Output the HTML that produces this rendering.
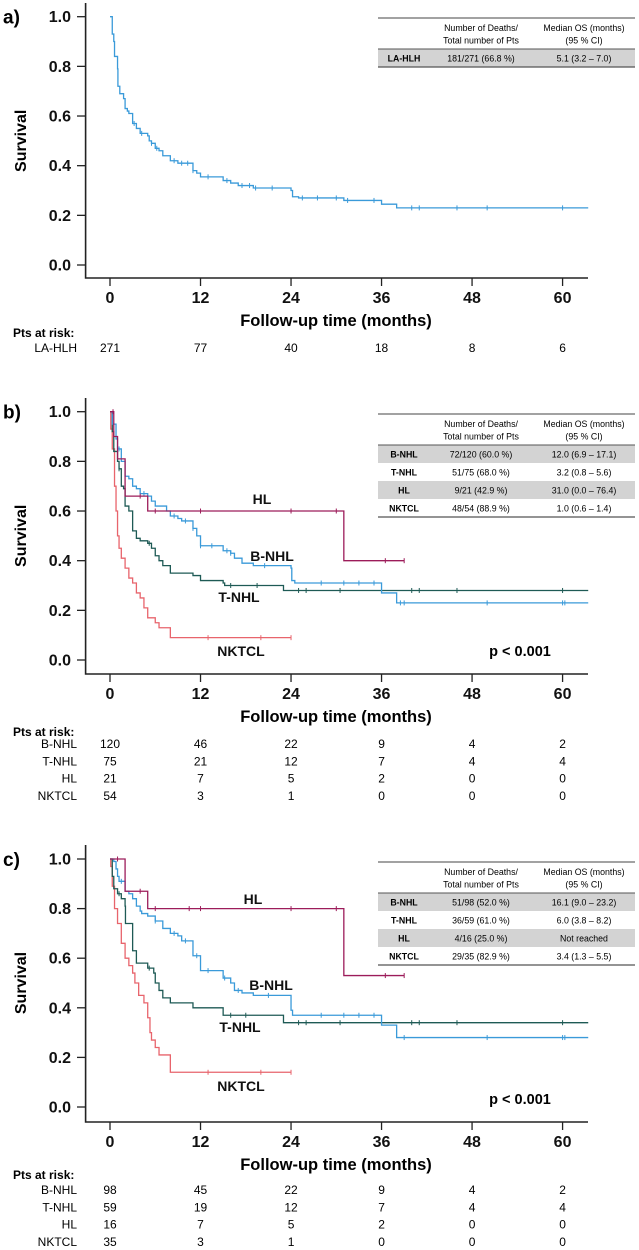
<!DOCTYPE html>
<html><head><meta charset="utf-8"><style>
html,body{margin:0;padding:0;background:#fff;}
svg{display:block;font-family:"Liberation Sans",sans-serif;}
</style></head><body>
<svg id="fig" width="639" height="1250" viewBox="0 0 639 1250" xmlns="http://www.w3.org/2000/svg"></svg>
<script>
// ---------- data ----------
const xTicks = [0, 12, 24, 36, 48, 60];
const yTicks = [0.0, 0.2, 0.4, 0.6, 0.8, 1.0];
// Panel a
const aLAHLH_t = [0,0.3,0.5,0.6,1.0,1.05,1.3,1.8,2.0,2.3,2.5,3.0,3.5,4.0,5.0,5.2,5.5,6.0,6.5,7.0,8.0,9.0,11.0,11.5,12.0,15.0,16.0,17.0,19.0,24.0,24.2,25.0,31.0,36.0,38.0];
const aLAHLH_s = [1.0,0.93,0.9,0.84,0.79,0.72,0.69,0.67,0.63,0.62,0.61,0.57,0.55,0.53,0.52,0.50,0.49,0.47,0.46,0.44,0.42,0.41,0.38,0.37,0.355,0.34,0.33,0.32,0.31,0.30,0.275,0.27,0.26,0.245,0.23];
const aLAHLH_cens = [3.2,4.2,5.5,6.2,8.5,9.5,10.3,11,13,15.5,17.5,18.5,19.3,21.5,25.5,27.5,30,31.5,35,40,41,46,50,60];
const aRisk = [271, 77, 40, 18, 8, 6];
// Panel b
const bBNHL_t = [0,0.3,0.8,1.0,1.5,2.0,2.5,3.0,3.5,4.0,5.0,5.5,6.0,7.5,8.0,9.0,9.5,11.0,11.5,12.0,15.0,16.0,16.5,17.5,19.0,24.0,24.1,24.5,36.0,38.0];
const bBNHL_s = [1.0,0.95,0.89,0.85,0.80,0.74,0.73,0.70,0.69,0.67,0.66,0.64,0.62,0.60,0.58,0.57,0.56,0.53,0.50,0.46,0.44,0.43,0.41,0.39,0.38,0.37,0.32,0.31,0.27,0.23];
const bBNHL_cens = [1.2,4.5,8.5,10,11,12,13.5,15.5,16,20.5,28,31,33,35,38.5,39,50,60,60.3];
const bTNHL_t = [0,0.3,0.5,1.0,1.2,1.5,1.8,2.0,2.5,3.0,3.5,4.0,5.0,5.5,6.0,6.5,7.0,8.0,11.0,12.0,15.0,15.2,23.0];
const bTNHL_s = [1.0,0.92,0.84,0.80,0.77,0.70,0.69,0.62,0.60,0.52,0.49,0.48,0.47,0.45,0.42,0.40,0.38,0.35,0.34,0.32,0.31,0.30,0.28];
const bTNHL_cens = [1.2,5.2,16,19.5,25,26,30.5,40,41,46,60];
const bHL_t = [0,0.5,1.0,2.0,5.0,31.0];
const bHL_s = [1.0,0.90,0.81,0.66,0.60,0.40];
const bHL_end = 39;
const bHL_cens = [0.4,4,6,12,24,30,36.5,39];
const bNK_t = [0,0.1,0.3,0.6,0.8,1.0,1.2,1.5,2.0,2.5,3.0,3.5,4.0,4.5,5.0,6.0,6.5,8.0];
const bNK_s = [1.0,0.93,0.85,0.70,0.60,0.50,0.45,0.41,0.37,0.33,0.31,0.27,0.25,0.21,0.17,0.15,0.13,0.09];
const bNK_end = 24;
const bNK_cens = [13,20,24];
const bRisk = {"B-NHL":[120,46,22,9,4,2],"T-NHL":[75,21,12,7,4,4],"HL":[21,7,5,2,0,0],"NKTCL":[54,3,1,0,0,0]};
// Panel c
const cBNHL_t = [0,0.5,0.8,1.0,1.2,2.0,2.5,3.0,3.5,4.0,4.2,5.0,6.0,7.0,8.0,9.0,9.5,11.0,12.0,15.0,16.0,16.5,17.5,19.0,24.0,24.2,36.0,38.0];
const cBNHL_s = [1.0,0.99,0.96,0.93,0.91,0.87,0.86,0.84,0.81,0.79,0.78,0.77,0.75,0.72,0.70,0.69,0.67,0.61,0.55,0.52,0.50,0.47,0.46,0.45,0.39,0.37,0.33,0.28];
const cBNHL_cens = [1.5,6,8.5,10,11.5,13,15.2,17,21,28,31,33,35,39,50,60,60.3];
const cTNHL_t = [0,0.3,0.5,1.0,1.5,2.0,2.05,3.0,3.5,5.0,5.8,6.0,6.5,7.0,8.0,11.0,15.0,23.0];
const cTNHL_s = [1.0,0.93,0.88,0.86,0.84,0.81,0.74,0.63,0.58,0.56,0.54,0.50,0.47,0.44,0.42,0.40,0.37,0.34];
const cTNHL_cens = [1.2,5.2,16,18,25,26,30.5,40,41,46,60];
const cHL_t = [0,2.0,5.0,31.0];
const cHL_s = [1.0,0.87,0.80,0.53];
const cHL_end = 39;
const cHL_cens = [1,4,6,10.5,12,24,30,36.5,39];
const cNK_t = [0,0.1,0.3,0.6,1.0,1.5,2.0,2.5,3.0,3.3,3.8,4.5,5.0,5.3,5.5,6.0,6.5,8.0];
const cNK_s = [1.0,0.97,0.89,0.80,0.74,0.66,0.60,0.57,0.54,0.50,0.45,0.42,0.36,0.30,0.27,0.24,0.21,0.14];
const cNK_end = 24;
const cNK_cens = [13,20,24];
const cRisk = {"B-NHL":[98,45,22,9,4,2],"T-NHL":[59,19,12,7,4,4],"HL":[16,7,5,2,0,0],"NKTCL":[35,3,1,0,0,0]};
const bTable = [["B-NHL","72/120 (60.0 %)","12.0 (6.9 – 17.1)"],["T-NHL","51/75 (68.0 %)","3.2 (0.8 – 5.6)"],["HL","9/21 (42.9 %)","31.0 (0.0 – 76.4)"],["NKTCL","48/54 (88.9 %)","1.0 (0.6 – 1.4)"]];
const cTable = [["B-NHL","51/98 (52.0 %)","16.1 (9.0 – 23.2)"],["T-NHL","36/59 (61.0 %)","6.0 (3.8 – 8.2)"],["HL","4/16 (25.0 %)","Not reached"],["NKTCL","29/35 (82.9 %)","3.4 (1.3 – 5.5)"]];
const aTable = [["LA-HLH","181/271 (66.8 %)","5.1 (3.2 – 7.0)"]];

// ---------- drawing ----------
const NS = "http://www.w3.org/2000/svg";
const svg = document.getElementById('fig');
const COL = {blue:"#3a9ad9", green:"#1e5a55", maroon:"#9c1c5a", red:"#e8646c"};
const X0 = 110, PXM = 7.543, XEND = 63.4;
function xs(m){ return X0 + m*PXM; }
function mk(tag, attrs, parent, text){
  const e = document.createElementNS(NS, tag);
  for (const k in attrs) e.setAttribute(k, attrs[k]);
  if (text !== undefined) e.textContent = text;
  (parent||svg).appendChild(e);
  return e;
}
function panel(p){
  const g = mk('g', {});
  
  
  const ys = v => p.y0 + (p.y1 - p.y0) * v;
  const lbl = mk('text', {x:3, y:p.y1+7, 'font-size':19, 'font-weight':'bold'}, g, p.letter + ')');
  
  
  const ax = mk('path', {d:`M85.6 ${p.top} V${p.axisY} H588`, stroke:'#222', 'stroke-width':1.6, fill:'none'}, g);
  
  
  yTicks.forEach(v => {
    const y = ys(v);
    mk('line', {x1:77, x2:85.6, y1:y, y2:y, stroke:'#222', 'stroke-width':1.3}, g);
    const t = mk('text', {x:71, y:y+5.5, 'font-size':16, 'font-weight':'bold', 'text-anchor':'end', fill:'#111'}, g, v.toFixed(1));
    
    
  });
  xTicks.forEach(m => {
    const x = xs(m);
    mk('line', {x1:x, x2:x, y1:p.axisY, y2:p.axisY+8, stroke:'#222', 'stroke-width':1.3}, g);
    const t = mk('text', {x:x, y:p.axisY+25, 'font-size':16, 'font-weight':'bold', 'text-anchor':'middle', fill:'#111'}, g, String(m));
    
    
  });
  const yt = mk('text', {x:0, y:0, 'font-size':16, 'font-weight':'bold', 'text-anchor':'middle', transform:`translate(26 ${(p.y0+p.y1)/2}) rotate(-90)`}, g, 'Survival');
  
  
  const xt = mk('text', {x:336, y:p.axisY+48, 'font-size':16.5, 'font-weight':'bold', 'text-anchor':'middle'}, g, 'Follow-up time (months)');
  
  
  p.series.forEach(s => {
    let d = `M${xs(s.t[0])} ${ys(s.s[0])}`;
    for (let i = 1; i < s.t.length; i++) d += ` H${xs(s.t[i])} V${ys(s.s[i])}`;
    d += ` H${xs(s.end)}`;
    const path = mk('path', {d:d, stroke:s.color, 'stroke-width':1.3, fill:'none'}, g);
    
    
    s.cens.forEach(c => {
      let v = s.s[0];
      for (let i = 0; i < s.t.length; i++) if (s.t[i] <= c) v = s.s[i];
      const y = ys(v), x = xs(c);
      const cm = mk('line', {x1:x, x2:x, y1:y-2.5, y2:y+2.5, stroke:s.color, 'stroke-width':1}, g);
      
      
    });
  });
  (p.labels||[]).forEach(l => {
    const t = mk('text', {x:l[1], y:l[2], 'font-size':14, 'font-weight':'bold', 'text-anchor':'middle', fill:'#111'}, g, l[0]);
    
    
  });
  if (p.pval) {
    const t = mk('text', {x:520, y:p.pval, 'font-size':14.5, 'font-weight':'bold', 'text-anchor':'middle'}, g, 'p < 0.001');
    
    
  }
  const tb = mk('g', {}, g);
  
  
  const T = p.tTop;
  mk('line', {x1:378, x2:635, y1:T, y2:T, stroke:'#444', 'stroke-width':1}, tb);
  mk('text', {x:481, y:T+13, 'font-size':8.8, 'text-anchor':'middle'}, tb, 'Number of Deaths/');
  mk('text', {x:481, y:T+25.5, 'font-size':8.8, 'text-anchor':'middle'}, tb, 'Total number of Pts');
  mk('text', {x:584, y:T+13, 'font-size':8.8, 'text-anchor':'middle'}, tb, 'Median OS (months)');
  mk('text', {x:584, y:T+25.5, 'font-size':8.8, 'text-anchor':'middle'}, tb, '(95 % CI)');
  const H = T + 31;
  p.table.forEach((r, i) => {
    const ry = H + i*18;
    if (i % 2 === 0) mk('rect', {x:378, y:ry, width:257, height:18, fill:'#d3d3d3'}, tb);
    mk('text', {x:404, y:ry+12.5, 'font-size':8.8, 'font-weight':'bold', 'text-anchor':'middle'}, tb, r[0]);
    mk('text', {x:481, y:ry+12.5, 'font-size':8.8, 'text-anchor':'middle'}, tb, r[1]);
    mk('text', {x:584, y:ry+12.5, 'font-size':8.8, 'text-anchor':'middle'}, tb, r[2]);
  });
  mk('line', {x1:378, x2:635, y1:H, y2:H, stroke:'#555', 'stroke-width':1}, tb);
  mk('line', {x1:378, x2:635, y1:H+18*p.table.length, y2:H+18*p.table.length, stroke:'#555', 'stroke-width':1.3}, tb);
  const rk = mk('g', {}, g);
  
  
  mk('text', {x:13, y:p.riskTop, 'font-size':12, 'font-weight':'bold'}, rk, 'Pts at risk:');
  Object.keys(p.risk).forEach((k, i) => {
    const y = p.riskRow0 + i*17.3;
    mk('text', {x:77, y:y, 'font-size':12, 'text-anchor':'end'}, rk, k);
    p.risk[k].forEach((n, j) => {
      mk('text', {x:xs(xTicks[j]), y:y, 'font-size':12, 'text-anchor':'middle'}, rk, String(n));
    });
  });
}
panel({letter:'a', y0:265, y1:16.7, top:3, axisY:278, tTop:18, table:aTable,
  series:[{name:'LA-HLH', t:aLAHLH_t, s:aLAHLH_s, end:XEND, cens:aLAHLH_cens, color:COL.blue}],
  risk:{"LA-HLH":aRisk}, riskTop:337, riskRow0:352});
panel({letter:'b', y0:660, y1:411.7, top:398, axisY:674, tTop:414, table:bTable, pval:656,
  series:[
    {name:'NKTCL', t:bNK_t, s:bNK_s, end:bNK_end, cens:bNK_cens, color:COL.red},
    {name:'T-NHL', t:bTNHL_t, s:bTNHL_s, end:XEND, cens:bTNHL_cens, color:COL.green},
    {name:'B-NHL', t:bBNHL_t, s:bBNHL_s, end:XEND, cens:bBNHL_cens, color:COL.blue},
    {name:'HL', t:bHL_t, s:bHL_s, end:bHL_end, cens:bHL_cens, color:COL.maroon}],
  labels:[['HL',262,504],['B-NHL',272,561],['T-NHL',239,602],['NKTCL',241,656]],
  risk:bRisk, riskTop:736, riskRow0:748});
panel({letter:'c', y0:1107, y1:859, top:845, axisY:1122, tTop:862, table:cTable, pval:1104,
  series:[
    {name:'NKTCL', t:cNK_t, s:cNK_s, end:cNK_end, cens:cNK_cens, color:COL.red},
    {name:'T-NHL', t:cTNHL_t, s:cTNHL_s, end:XEND, cens:cTNHL_cens, color:COL.green},
    {name:'B-NHL', t:cBNHL_t, s:cBNHL_s, end:XEND, cens:cBNHL_cens, color:COL.blue},
    {name:'HL', t:cHL_t, s:cHL_s, end:cHL_end, cens:cHL_cens, color:COL.maroon}],
  labels:[['HL',253,904],['B-NHL',271,990],['T-NHL',240,1032],['NKTCL',241,1091]],
  risk:cRisk, riskTop:1179, riskRow0:1194});
</script>
</body></html>
